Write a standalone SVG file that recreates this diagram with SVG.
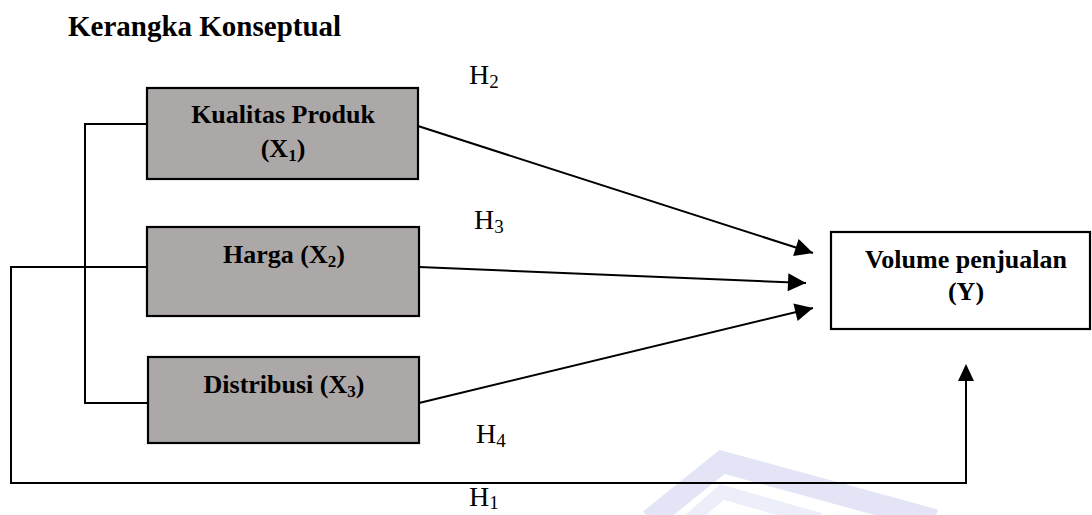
<svg xmlns="http://www.w3.org/2000/svg" width="1092" height="515" viewBox="0 0 1092 515">
<style>
.box{fill:#aca8a7;stroke:#000;stroke-width:2.2}
.ybox{fill:#fff;stroke:#000;stroke-width:2.2}
.t{font-family:"Liberation Serif","Times New Roman",serif;font-weight:bold;font-size:26px;fill:#000}
.h{font-family:"Liberation Serif","Times New Roman",serif;font-size:28px;fill:#000}
.ln{fill:none;stroke:#000;stroke-width:2}
</style>
<defs>
<marker id="ah" viewBox="0 0 10 10" refX="10" refY="5" markerWidth="22" markerHeight="18" markerUnits="userSpaceOnUse" orient="auto">
<path d="M0,0 L10,5 L0,10 z" fill="#000"/>
</marker>
</defs>
<rect width="1092" height="515" fill="#fff"/>
<g id="watermark">
<polyline points="650,520 722,462 935,520" fill="none" stroke="#e3e5f6" stroke-width="22"/>
<polyline points="690,520 722,492 820,520" fill="none" stroke="#eceef9" stroke-width="14"/>
</g>
<text x="68" y="36" class="t" style="font-size:29px">Kerangka Konseptual</text>
<g id="connectors">
<polyline class="ln" points="147,124 85,124 85,403 148,403"/>
<polyline class="ln" points="147,267 11,267 11,483 966,483 966,380"/>
<path d="M966,364 L958,381 L974,381 z" fill="#000"/>
<line class="ln" x1="418" y1="126" x2="813" y2="253" marker-end="url(#ah)"/>
<line class="ln" x1="419" y1="267" x2="806" y2="283" marker-end="url(#ah)"/>
<line class="ln" x1="419" y1="403" x2="813" y2="308" marker-end="url(#ah)"/>
</g>
<g id="x1">
<rect class="box" x="147" y="88" width="271" height="91"/>
<text x="283" y="123" class="t" text-anchor="middle">Kualitas Produk</text>
<text x="283" y="157" class="t" text-anchor="middle">(X<tspan font-size="17" dy="4">1</tspan><tspan dy="-4">)</tspan></text>
</g>
<g id="x2">
<rect class="box" x="147" y="227" width="272" height="89"/>
<text x="284" y="263" class="t" text-anchor="middle">Harga (X<tspan font-size="17" dy="4">2</tspan><tspan dy="-4">)</tspan></text>
</g>
<g id="x3">
<rect class="box" x="148" y="357" width="271" height="86"/>
<text x="284" y="393" class="t" text-anchor="middle">Distribusi (X<tspan font-size="17" dy="4">3</tspan><tspan dy="-4">)</tspan></text>
</g>
<g id="y">
<rect class="ybox" x="831" y="232" width="259" height="97"/>
<text x="966" y="268" class="t" text-anchor="middle">Volume penjualan</text>
<text x="966" y="300" class="t" text-anchor="middle">(Y)</text>
</g>
<g id="labels">
<text x="469" y="84" class="h">H<tspan font-size="19" dy="4">2</tspan></text>
<text x="474" y="229" class="h">H<tspan font-size="19" dy="4">3</tspan></text>
<text x="476" y="443" class="h">H<tspan font-size="19" dy="4">4</tspan></text>
<text x="469" y="506" class="h">H<tspan font-size="19" dy="3">1</tspan></text>
</g>
</svg>
